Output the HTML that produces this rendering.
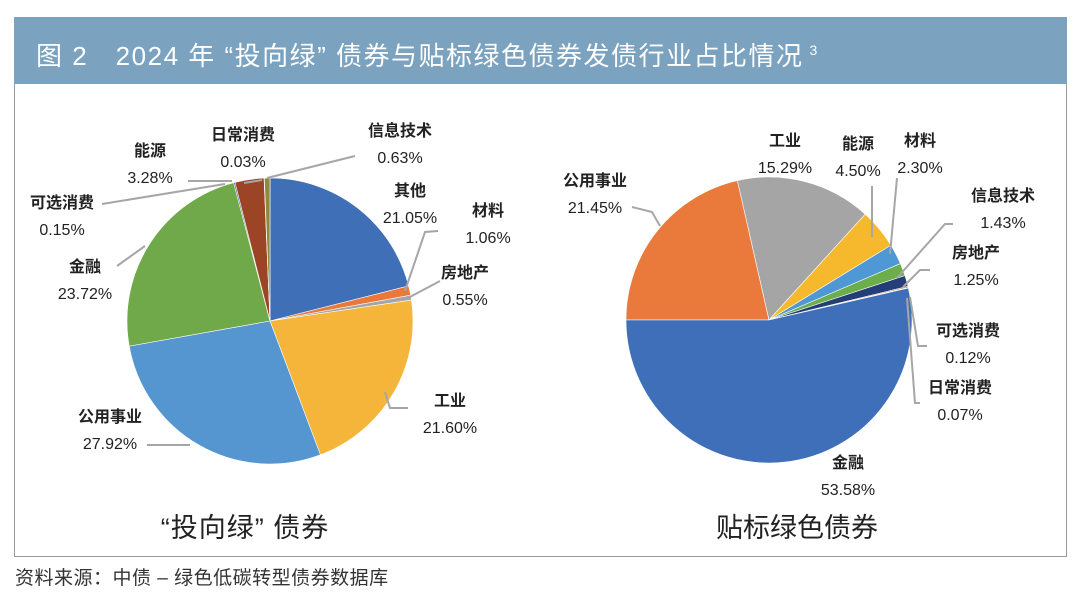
<!DOCTYPE html>
<html><head><meta charset="utf-8"><style>
body{margin:0;width:1080px;height:605px;background:#fff;font-family:"Liberation Sans","Noto Sans CJK SC",sans-serif;position:relative;overflow:hidden}
#hdr{position:absolute;left:14px;top:17px;width:1053px;height:67px;background:#7ba2bf;color:#fff;font-size:26px;letter-spacing:1.5px;line-height:67px;padding-left:22px;box-sizing:border-box;white-space:nowrap}
#hdr sup{font-size:14px;vertical-align:10px;margin-left:6px}
#box{position:absolute;left:14px;top:84px;width:1053px;height:473px;border:1.5px solid #999;border-top:none;box-sizing:border-box}
#src{position:absolute;left:15px;top:563px;font-size:19px;letter-spacing:0.5px;color:#333}
svg{position:absolute;left:0;top:0}
</style></head><body>
<div id="hdr">图 2　2024 年 “投向绿” 债券与贴标绿色债券发债行业占比情况<sup>3</sup></div>
<div id="box"></div>
<div id="src">资料来源：中债 – 绿色低碳转型债券数据库</div>
<svg id="svg" width="1080" height="605">
<text x="245" y="537" text-anchor="middle" font-size="27" letter-spacing="1" fill="#222">“投向绿” 债券</text>
<text x="797" y="537" text-anchor="middle" font-size="27" fill="#222">贴标绿色债券</text>
</svg>
<script>
const leftCats=["其他","材料","房地产","工业","公用事业","金融","可选消费","能源","日常消费","信息技术"];
const leftVals=[21.05,1.06,0.55,21.60,27.92,23.72,0.15,3.28,0.03,0.63];
const leftColors=["#3f6fb6","#e9793a","#a5a5a5","#f5b53a","#5595d0","#6fa94a","#2c4f86","#9c4526","#777","#8f8a3a"];
const rightCats=["公用事业","工业","能源","材料","信息技术","房地产","可选消费","日常消费","金融"];
const rightVals=[21.45,15.29,4.50,2.30,1.43,1.25,0.12,0.07,53.58];
const rightColors=["#e97a3c","#a5a5a5","#f6b92e","#4f98d6","#6cae4b","#243f78","#9c4526","#6b6b6b","#3f6fb8"];
// label layout (positions only): [x,y,leader points]
const leftLab={"其他":[410,196,null],"材料":[488,216,[[438,231],[425,232],[405,291]]],"房地产":[465,278,[[440,281],[408,298]]],
"工业":[450,406,[[408,408],[390,408],[385,392]]],"公用事业":[110,422,[[147,445],[190,445]]],"金融":[85,272,[[117,266],[145,246]]],
"可选消费":[62,208,[[102,204],[225,184]]],"能源":[150,156,[[188,181],[232,181]]],"日常消费":[243,140,[[244,183],[262,180]]],"信息技术":[400,136,[[355,156],[267,178]]]};
const rightLab={"公用事业":[595,186,[[632,207],[652,212],[660,226]]],"工业":[785,146,null],"能源":[858,149,[[872,186],[872,237]]],
"材料":[920,146,[[897,178],[890,254]]],"信息技术":[1003,201,[[953,224],[945,224],[897,278]]],"房地产":[976,258,[[930,270],[920,270],[903,287]]],
"可选消费":[968,336,[[927,346],[918,346],[910,297]]],"日常消费":[960,393,[[920,403],[915,403],[907,298]]],"金融":[848,468,null]};
const NS="http://www.w3.org/2000/svg";
const svg=document.getElementById('svg');
function pt(cx,cy,r,deg){const a=deg*Math.PI/180;return [cx+r*Math.sin(a),cy-r*Math.cos(a)];}
function drawPie(cats,vals,colors,cx,cy,r,start,labs,pfx){
  const tot=vals.reduce((a,b)=>a+b,0);let a0=start;
  cats.forEach((c,i)=>{
    const sw=vals[i]/tot*360,a1=a0+sw;
    const p0=pt(cx,cy,r,a0),p1=pt(cx,cy,r,a1);
    const path=document.createElementNS(NS,'path');
    path.setAttribute('d',`M${cx},${cy}L${p0[0]},${p0[1]}A${r},${r} 0 ${sw>180?1:0} 1 ${p1[0]},${p1[1]}Z`);
    path.setAttribute('fill',colors[i]);path.setAttribute('stroke','#fff');path.setAttribute('stroke-width','0.6');
    
    
    svg.appendChild(path);a0=a1;
  });
  cats.forEach((c,i)=>{
    const L=labs[c];if(!L)return;
    if(L[2]){const pl=document.createElementNS(NS,'polyline');
      pl.setAttribute('points',L[2].map(p=>p.join(',')).join(' '));
      pl.setAttribute('fill','none');pl.setAttribute('stroke','#a6a6a6');pl.setAttribute('stroke-width','2');
      
      
      svg.appendChild(pl);}
    const t=document.createElementNS(NS,'text');t.setAttribute('x',L[0]);t.setAttribute('y',L[1]);
    t.setAttribute('text-anchor','middle');t.setAttribute('font-size','16');t.setAttribute('fill','#222');
    
    
    const s1=document.createElementNS(NS,'tspan');s1.textContent=c;s1.setAttribute('font-weight','bold');t.appendChild(s1);
    const s2=document.createElementNS(NS,'tspan');s2.setAttribute('x',L[0]);s2.setAttribute('dy','27');
    s2.textContent=vals[i].toFixed(2)+'%';t.appendChild(s2);svg.appendChild(t);
  });
}
drawPie(leftCats,leftVals,leftColors,270,321,143,0,leftLab,'left');
drawPie(rightCats,rightVals,rightColors,769,320,143,270,rightLab,'right');
</script>
</body></html>
